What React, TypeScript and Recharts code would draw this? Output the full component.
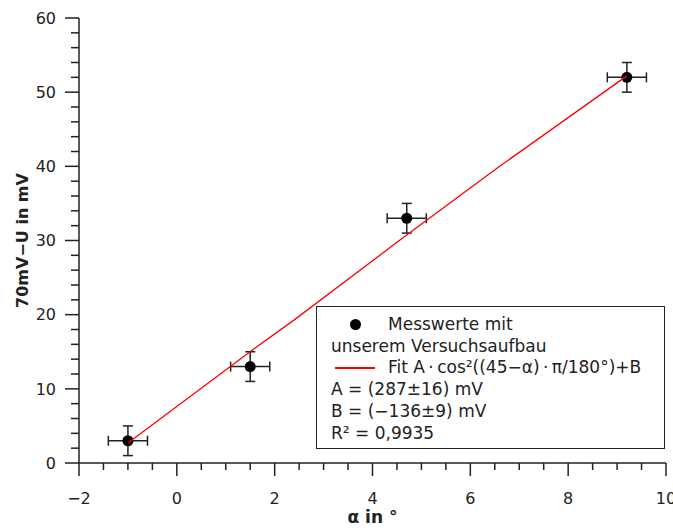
import React from 'react';
import { ScatterChart, Scatter, XAxis, YAxis, ErrorBar } from 'recharts';

// Messwerte
const alpha = [-1, 1.5, 4.7, 9.2];
const uDiff = [3, 13, 33, 52];
const alphaErr = [0.4, 0.4, 0.4, 0.4];
const uErr = [2, 2, 2, 2];

// Fitkurve
const fitAlpha = [-1, 1.6, 2.4, 4.65, 6.6, 9.2];
const fitU = [2.7, 15.5, 19.3, 30.5, 40.0, 52.2];

const xTicks = [-2, -1.5, -1, -0.5, 0, 0.5, 1, 1.5, 2, 2.5, 3, 3.5, 4, 4.5, 5, 5.5, 6, 6.5, 7, 7.5, 8, 8.5, 9, 9.5, 10];
const xMajor = [-2, 0, 2, 4, 6, 8, 10];
const yTicks = [0, 2, 4, 6, 8, 10, 12, 14, 16, 18, 20, 22, 24, 26, 28, 30, 32, 34, 36, 38, 40, 42, 44, 46, 48, 50, 52, 54, 56, 58, 60];
const yMajor = [0, 10, 20, 30, 40, 50, 60];

const legendLines = [
  'Messwerte mit',
  'unserem Versuchsaufbau',
  'Fit A\u2009·\u2009cos²((45−α)\u2009·\u2009π/180°)+B',
  'A = (287±16) mV',
  'B = (−136±9) mV',
  'R² = 0,9935',
];

const points = alpha.map((a, i) => ({ x: a, y: uDiff[i], ex: alphaErr[i], ey: uErr[i] }));
const fit = fitAlpha.map((a, i) => ({ x: a, y: fitU[i] }));

const INK = '#222';
const FONT = '"DejaVu Sans", sans-serif';

const fmt = (v: number) => (v < 0 ? '−' + Math.abs(v) : String(v));

const XTick = ({ x, y, payload }: any) => {
  const major = xMajor.includes(payload.value);
  return (
    <g>
      <line x1={x} y1={y} x2={x} y2={y + (major ? 13 : 7)} stroke={INK} strokeWidth={1.5} />
      {major && (
        <text x={x} y={y + 41} textAnchor="middle" fontSize={16} fill={INK} fontFamily={FONT}>
          {fmt(payload.value)}
        </text>
      )}
    </g>
  );
};

const YTick = ({ x, y, payload }: any) => {
  const major = yMajor.includes(payload.value);
  return (
    <g>
      <line x1={x - (major ? 14 : 8)} y1={y} x2={x} y2={y} stroke={INK} strokeWidth={1.5} />
      {major && (
        <text x={x - 23} y={y} dy="0.36em" textAnchor="end" fontSize={16} fill={INK} fontFamily={FONT}>
          {fmt(payload.value)}
        </text>
      )}
    </g>
  );
};

const Dot = ({ cx, cy }: any) => <circle cx={cx} cy={cy} r={5.5} fill="#000" />;

export default function App() {
  return (
    <div style={{ position: 'absolute', left: 0, top: 0, width: 673, height: 531, background: '#fff', fontFamily: FONT }}>
      <ScatterChart width={673} height={531} margin={{ top: 18, right: 7, bottom: 0, left: 0 }}>
        <XAxis
          type="number"
          dataKey="x"
          domain={[-2, 10]}
          ticks={xTicks}
          interval={0}
          allowDataOverflow
          height={68}
          tickSize={0}
          tickMargin={0}
          tickLine={false}
          tick={<XTick />}
          axisLine={{ stroke: INK, strokeWidth: 1.5 }}
          label={{
            content: ({ viewBox }: any) => (
              <text x={viewBox.x + viewBox.width / 2} y={viewBox.y + 60} textAnchor="middle" fontSize={17} fontWeight="bold" fill={INK} fontFamily={FONT}>
                α in °
              </text>
            ),
          }}
        />
        <YAxis
          type="number"
          dataKey="y"
          domain={[0, 60]}
          ticks={yTicks}
          interval={0}
          allowDataOverflow
          width={79}
          tickSize={0}
          tickMargin={0}
          tickLine={false}
          tick={<YTick />}
          axisLine={{ stroke: INK, strokeWidth: 1.5 }}
          label={{
            content: ({ viewBox }: any) => {
              const cx = viewBox.x + 22;
              const cy = viewBox.y + viewBox.height / 2;
              return (
                <text x={cx} y={cy} dy="0.36em" textAnchor="middle" transform={`rotate(-90 ${cx} ${cy})`} fontSize={16} fontWeight="bold" fill={INK} fontFamily={FONT}>
                  70mV−U in mV
                </text>
              );
            },
          }}
        />
        <Scatter data={points} dataKey="y" shape={<Dot />} isAnimationActive={false}>
          <ErrorBar dataKey="ex" direction="x" width={5} stroke={INK} strokeWidth={1.5} isAnimationActive={false} />
          <ErrorBar dataKey="ey" direction="y" width={5} stroke={INK} strokeWidth={1.5} isAnimationActive={false} />
        </Scatter>
        <Scatter
          data={fit}
          dataKey="y"
          line={{ stroke: '#ff0000', strokeWidth: 1.3 }}
          shape={() => <g />}
          isAnimationActive={false}
        />
      </ScatterChart>
      <div
        style={{
          position: 'absolute',
          left: 316,
          top: 306,
          width: 349,
          height: 143,
          boxSizing: 'border-box',
          border: `1.5px solid ${INK}`,
          background: '#fff',
          fontSize: 17,
          lineHeight: '21.7px',
          color: INK,
          paddingTop: 7,
        }}
      >
        {legendLines.map((t, i) => {
          const indent = i === 0 || i === 2;
          return (
            <div key={i} style={{ position: 'relative', paddingLeft: indent ? 71 : 14, whiteSpace: 'nowrap' }}>
              {i === 0 && (
                <span style={{ position: 'absolute', left: 33, top: 5, width: 11, height: 11, borderRadius: '50%', background: '#000' }} />
              )}
              {i === 2 && (
                <span style={{ position: 'absolute', left: 18, top: 10, width: 40, height: 1.3, background: '#ff0000' }} />
              )}
              {t}
            </div>
          );
        })}
      </div>
    </div>
  );
}
